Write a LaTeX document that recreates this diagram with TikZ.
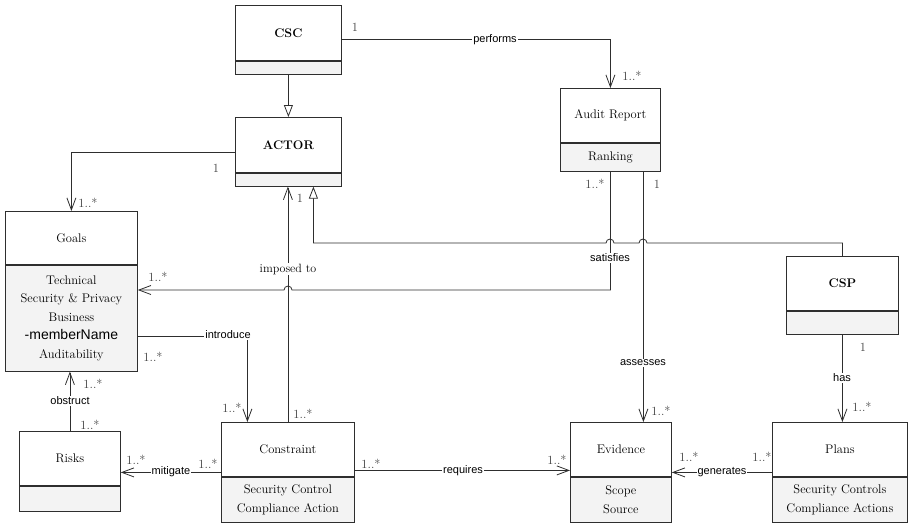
\documentclass[tikz,border=0pt]{standalone}
\usepackage{fontspec}
\setsansfont{Liberation Sans}
\usepackage{tikz}
\usetikzlibrary{arrows.meta}
\usetikzlibrary{positioning}
\definecolor{attrfill}{HTML}{F3F3F3}
\definecolor{umlline}{HTML}{2E2E2E}
\definecolor{multtext}{HTML}{404040}
\tikzstyle{class} = [rectangle, draw=umlline, line width=0.8pt, fill=white, anchor=north west,
    inner sep=0pt, align=center, font=\fontsize{12.5}{18.5}\selectfont]
\tikzstyle{attrs} = [rectangle, draw=umlline, line width=0.8pt, fill=attrfill,
    inner sep=0pt, align=center, font=\fontsize{12.5}{18.5}\selectfont]
\tikzstyle{line} = [draw=umlline, line width=0.8pt, -{Straight Barb[length=12pt,width=9pt]}]
\tikzstyle{inherit} = [draw=umlline, line width=0.8pt, -{Triangle[open,length=12pt,width=9pt]}]
\tikzstyle{assoc} = [font=\sffamily\fontsize{11}{12}\selectfont, fill=white, inner sep=1pt]
\tikzstyle{mult} = [font=\fontsize{12.5}{14}\selectfont, text=multtext, inner sep=0pt]

\begin{document}
\begin{tikzpicture}[x=1pt,y=-1pt]
    \useasboundingbox (0,0) rectangle (912,523);
    % Place nodes
    \node [class, minimum width=106pt, minimum height=55pt] (csc) at (235,5) {\bfseries CSC};
    \node [attrs, below=0pt of csc, minimum width=106pt, minimum height=13pt] (csc-attr) {};
    \node [class, minimum width=106pt, minimum height=55pt] (actor) at (235,117) {\bfseries ACTOR};
    \node [attrs, below=0pt of actor, minimum width=106pt, minimum height=13pt] (actor-attr) {};
    \node [class, minimum width=100pt, minimum height=54pt] (audit) at (560,88) {Audit Report};
    \node [attrs, below=0pt of audit, minimum width=100pt, minimum height=28pt] (audit-attr) {Ranking};
    \node [class, minimum width=132pt, minimum height=53pt] (goals) at (5,211) {Goals};
    \node [attrs, below=0pt of goals, minimum width=132pt, minimum height=106pt] (goals-attr)
        {Technical\\Security \& Privacy\\Business\\{\sffamily\fontsize{14}{18.5}\selectfont -memberName}\\Auditability};
    \node [class, minimum width=112pt, minimum height=54pt] (csp) at (786,256) {\bfseries CSP};
    \node [attrs, below=0pt of csp, minimum width=112pt, minimum height=23pt] (csp-attr) {};
    \node [class, minimum width=101pt, minimum height=54pt] (risks) at (19,431) {Risks};
    \node [attrs, below=0pt of risks, minimum width=101pt, minimum height=25pt] (risks-attr) {};
    \node [class, minimum width=133pt, minimum height=54pt] (constraint) at (221,422) {Constraint};
    \node [attrs, below=0pt of constraint, minimum width=133pt, minimum height=45pt] (constraint-attr)
        {Security Control\\Compliance Action};
    \node [class, minimum width=101pt, minimum height=54pt] (evidence) at (570,422) {Evidence};
    \node [attrs, below=0pt of evidence, minimum width=101pt, minimum height=45pt] (evidence-attr)
        {Scope\\Source};
    \node [class, minimum width=135pt, minimum height=54pt] (plans) at (772,422) {Plans};
    \node [attrs, below=0pt of plans, minimum width=135pt, minimum height=45pt] (plans-attr)
        {Security Controls\\Compliance Actions};
    % Crossing points and bends
    \coordinate (sat-top) at (audit-attr.south);
    \coordinate (ass-top) at ([xshift=33pt]audit-attr.south);
    \coordinate (gen-end) at ([xshift=25pt]actor-attr.south);
    \coordinate (jump-sat) at (610,243);
    \coordinate (jump-ass) at (643,243);
    \coordinate (jump-imp) at (288,290);
    % Draw edges
    \path [inherit] (csc-attr.south) -- (actor.north);
    \path [inherit] (csp.north) |- ([xshift=4pt]jump-ass) arc[start angle=0, end angle=180, radius=4pt]
        -- ([xshift=4pt]jump-sat) arc[start angle=0, end angle=180, radius=4pt]
        -- (gen-end |- jump-sat) -- (gen-end);
    \path [line] ([yshift=-6.5pt]csc.east) -| (audit.north);
    \path [line] ([yshift=-7.5pt]actor.west) -| (goals.north);
    \path [line] (constraint.north) -- (constraint.north |- actor-attr.south);
    \path [line] (sat-top) |- ([xshift=4pt]jump-imp) arc[start angle=0, end angle=180, radius=4pt]
        -- (goals-attr.east |- jump-imp);
    \path [line] (ass-top) -- (ass-top |- evidence.north);
    \path [line] ([yshift=-18pt]goals-attr.east) -| ([xshift=-40.5pt]constraint.north);
    \path [line] (risks.north) -- (risks.north |- goals-attr.south);
    \path [line] ([yshift=-23pt]constraint.west) -- ([yshift=-23pt]constraint.west -| risks.east);
    \path [line] ([yshift=-21pt]constraint.east) -- ([yshift=-21pt]constraint.east -| evidence.west);
    \path [line] ([yshift=-23pt]plans.west) -- ([yshift=-23pt]plans.west -| evidence.east);
    \path [line] (csp-attr.south) -- (csp-attr.south |- plans.north);
    % Association names
    \node [assoc] (performs) at (495,40) {performs};
    \node [assoc, font=\fontsize{12}{14}\selectfont] (imposed) at (288,269) {imposed to};
    \node [assoc] (satisfies) at (610,258) {satisfies};
    \node [assoc] (assesses) at (643,363) {assesses};
    \node [assoc] (introduce) at (228,335) {introduce};
    \node [assoc] (obstruct) at (70,401) {obstruct};
    \node [assoc] (mitigate) at (171,472) {mitigate};
    \node [assoc] (requires) at (463,471) {requires};
    \node [assoc] (generates) at (722,472) {generates};
    \node [assoc] (has) at (842,378) {has};
    % Multiplicities
    \node [mult] (performs-a) at (355,27) {1};
    \node [mult] (performs-b) at (632,76) {1..*};
    \node [mult] (goal-a) at (216,168) {1};
    \node [mult] (goal-b) at (88,203) {1..*};
    \node [mult] (imposed-a) at (300,198) {1};
    \node [mult] (imposed-b) at (303,414) {1..*};
    \node [mult] (satisfies-a) at (595,184) {1..*};
    \node [mult] (satisfies-b) at (158,277) {1..*};
    \node [mult] (assesses-a) at (657,184) {1};
    \node [mult] (assesses-b) at (661,411) {1..*};
    \node [mult] (introduce-a) at (153,357) {1..*};
    \node [mult] (introduce-b) at (232,408) {1..*};
    \node [mult] (obstruct-a) at (93,384) {1..*};
    \node [mult] (obstruct-b) at (90,425) {1..*};
    \node [mult] (mitigate-a) at (136,460) {1..*};
    \node [mult] (mitigate-b) at (208,464) {1..*};
    \node [mult] (requires-a) at (371,464) {1..*};
    \node [mult] (requires-b) at (557,460) {1..*};
    \node [mult] (generates-a) at (689,457) {1..*};
    \node [mult] (generates-b) at (762,457) {1..*};
    \node [mult] (has-a) at (863,347) {1};
    \node [mult] (has-b) at (862,407) {1..*};
\end{tikzpicture}
\end{document}
